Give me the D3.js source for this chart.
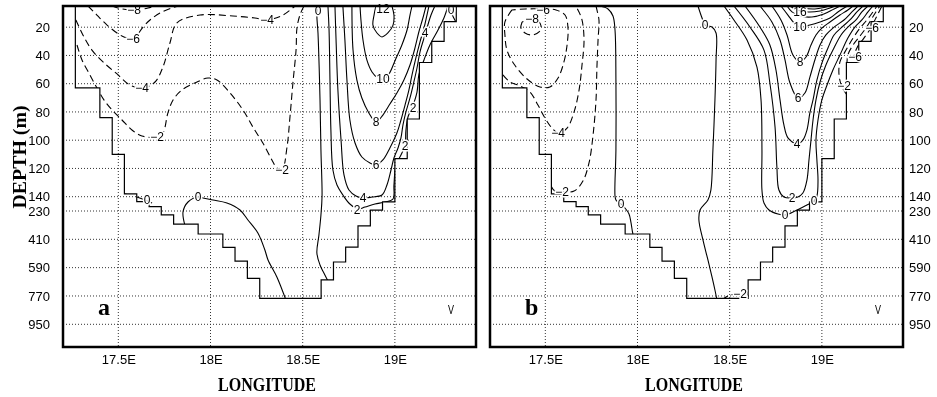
<!DOCTYPE html>
<html>
<head>
<meta charset="utf-8">
<script src="https://cdn.jsdelivr.net/npm/d3@7"></script>
<style>
  body { margin: 0; background: #fff; }
  svg { filter: grayscale(100%); }
  .lab { font-family: "Liberation Sans", Arial, sans-serif; font-size: 12px; }
</style>
</head>
<body>
<script>
// ticks
var lonTicks = [17.5, 18, 18.5, 19];
var depthTicks = [20, 40, 60, 80, 100, 120, 140, 230, 410, 590, 770, 950];

// model grid columns (lon edges) and bottom depth of each column (m)
var colEdges = [17.267, 17.333, 17.4, 17.467, 17.533, 17.6, 17.667, 17.733, 17.8, 17.867, 17.933, 18.0,
  18.067, 18.133, 18.2, 18.267, 18.333, 18.4, 18.467, 18.533, 18.6, 18.667, 18.733, 18.8, 18.867,
  18.933, 19.0, 19.067, 19.133, 19.2, 19.267, 19.333];
var colBottom = [63, 63, 84, 110, 138, 171, 203, 255, 313, 313, 376, 376, 461, 548, 658, 785, 785, 785,
  785, 785, 668, 554, 459, 325, 224, 173, 113, 85, 45, 30, 16];

// contour lines, panel a : [level, [[lon, depth], ...]]
var contoursA = [
  [-8, [[17.466,5],[17.520,7.1],[17.590,7.8],[17.661,6.4],[17.699,5]]],
  [-6, [[17.336,5],[17.384,11.4],[17.439,18.5],[17.493,24.1],[17.531,26.9],[17.580,28.4],[17.634,19.9],[17.672,14.9],[17.726,10],[17.791,6.4],[17.824,5]]],
  [-4, [[17.270,14.9],[17.308,25.5],[17.357,36.2],[17.417,44.6],[17.493,53.1],[17.563,60.9],[17.634,63],[17.699,58.8],[17.742,48.2],[17.780,31.2],[17.818,17],[17.943,11.4],[18.122,12.1],[18.241,13.5],[18.306,14.9],[18.393,11.4],[18.458,5]]],
  [-2, [[17.276,32.6],[17.303,43.2],[17.346,53.8],[17.384,63],[17.422,71.5],[17.466,78.6],[17.520,85.7],[17.574,92.8],[17.628,97],[17.710,97.7],[17.742,94.9],[17.769,80.7],[17.797,71.5],[17.845,64.5],[17.927,58.8],[17.986,56],[18.035,57.4],[18.106,66.6],[18.176,78.6],[18.230,90.7],[18.284,102],[18.333,114],[18.360,119.7],[18.388,121.1],[18.415,104.8],[18.431,83.6],[18.447,59.5],[18.464,36.2],[18.469,20.6],[18.485,11.4],[18.507,5]]],
  [0, [[18.583,5],[18.577,11.4],[18.583,24.1],[18.594,71.5],[18.599,106.9],[18.605,139.5],[18.599,255],[18.588,383],[18.577,497],[18.594,573],[18.615,624],[18.637,675]]],
  [0, [[17.862,325],[17.851,236],[17.878,173.4],[17.932,141.9],[17.959,148.2],[18.013,160.8],[18.089,179.7],[18.160,223.6],[18.203,287],[18.257,370],[18.295,478],[18.312,541],[18.360,649],[18.409,795]]],
  [0, [[17.536,138.1],[17.601,141.9],[17.683,179.7]]],
  [0, [[19.293,5],[19.309,10.7],[19.331,16.3]]],
  [2, [[18.637,5],[18.643,22],[18.648,57.4],[18.653,92.8],[18.664,121.1],[18.686,131.7],[18.718,138.8],[18.756,186],[18.800,217.4],[18.838,204.8],[18.892,186],[18.946,173.4],[18.990,154.5],[18.995,131.7],[19.006,117.6],[19.033,110.5],[19.055,103.4],[19.060,92.8],[19.071,83.6],[19.093,77.2],[19.120,65.9],[19.130,53.8],[19.158,43.2],[19.190,32.6],[19.234,22],[19.266,13.5],[19.288,5]]],
  [4, [[18.675,5],[18.681,29.1],[18.691,64.5],[18.708,99.9],[18.724,124.6],[18.751,135.3],[18.789,139.5],[18.827,148.2],[18.876,141.9],[18.930,138.8],[18.957,131.7],[18.979,121.1],[18.995,112.6],[19.017,105.5],[19.033,98.4],[19.044,89.2],[19.060,80],[19.082,70.1],[19.103,58.8],[19.120,48.9],[19.136,37.6],[19.158,27.7],[19.174,20.6],[19.196,11.4],[19.217,5]]],
  [6, [[18.718,5],[18.729,29.1],[18.740,57.4],[18.756,85.7],[18.784,102],[18.821,111.9],[18.865,116.1],[18.897,117.6],[18.935,114],[18.973,105.5],[19.011,94.9],[19.033,85.7],[19.055,75.1],[19.076,64.5],[19.093,53.8],[19.114,41.8],[19.136,30.5],[19.158,20.6],[19.174,11.4],[19.185,5]]],
  [8, [[18.767,5],[18.773,36.2],[18.794,57.4],[18.821,70.1],[18.859,80.7],[18.897,87.1],[18.935,82.2],[18.973,74.4],[19.011,66.6],[19.049,57.4],[19.082,46.8],[19.109,34.7],[19.130,23.4],[19.152,13.5],[19.169,5]]],
  [10, [[18.811,5],[18.816,14.9],[18.827,29.1],[18.848,43.2],[18.876,51.7],[18.908,56],[18.935,56.7],[18.968,53.1],[19.000,43.9],[19.038,32.6],[19.066,22],[19.082,11.4],[19.093,5]]],
  [12, [[18.897,5],[18.887,11.4],[18.881,18.5],[18.903,24.1],[18.930,26.9],[18.962,24.1],[18.990,18.5],[18.995,11.4],[18.984,5]]]
];
var labelsA = [
  [17.585,7.8,"-8"], [17.580,28.4,"-6"], [17.628,63,"-4"], [18.306,14.9,"-4"],
  [17.710,97.7,"-2"], [18.388,121.1,"-2"], [18.583,8.5,"0"], [17.932,141.9,"0"],
  [17.656,160.8,"0"], [19.304,8,"0"], [18.794,223.6,"2"], [19.055,104,"2"],
  [19.098,77.2,"2"], [18.827,148.2,"4"], [19.163,24.1,"4"], [18.897,117.6,"6"],
  [18.897,87.1,"8"], [18.935,56.7,"10"], [18.935,7.1,"12"]
];

// contour lines, panel b
var contoursB = [
  [-8, [[17.374,16.3],[17.368,20.6],[17.390,24.1],[17.428,25.5],[17.466,23.4],[17.477,19.2],[17.460,15.6],[17.417,14.9],[17.374,16.3]]],
  [-6, [[17.319,7.8],[17.281,16.3],[17.281,25.5],[17.292,36.2],[17.330,46.1],[17.401,56.7],[17.471,62.3],[17.525,62.3],[17.569,56],[17.601,44.6],[17.618,32.6],[17.623,20.6],[17.607,11.4],[17.558,7.8],[17.487,7.1],[17.390,7.1],[17.319,7.8]]],
  [-4, [[17.270,53.8],[17.308,58.8],[17.363,61.6],[17.417,65.9],[17.460,75.1],[17.498,84.3],[17.536,91.4],[17.569,94.9],[17.618,91.4],[17.656,80],[17.683,64.5],[17.699,46.8],[17.710,29.1],[17.699,14.9],[17.677,7.8],[17.661,5]]],
  [-2, [[17.531,132.4],[17.552,136],[17.590,136.7],[17.656,136],[17.704,128.9],[17.737,116.1],[17.759,96.3],[17.775,71.5],[17.780,48.2],[17.786,29.1],[17.791,14.9],[17.780,7.8],[17.775,5]]],
  [0, [[17.797,5],[17.840,7.1],[17.867,12.1],[17.878,22],[17.883,57.4],[17.883,106.9],[17.878,139.5],[17.883,160.8],[17.900,179.7],[17.910,186],[17.932,211.1],[17.954,249],[17.965,306],[17.975,376],[17.986,414]]],
  [0, [[18.328,5],[18.350,13.5],[18.366,18.5],[18.404,19.9],[18.426,24.1],[18.426,43.2],[18.420,71.5],[18.409,106.9],[18.398,135.3],[18.382,160.8],[18.339,223.6],[18.333,287],[18.355,414],[18.382,541],[18.404,649],[18.420,732],[18.431,795]]],
  [-2, [[18.458,795],[18.501,764],[18.582,757],[18.609,732]]],
  [0, [[18.469,5],[18.523,14.9],[18.594,29.1],[18.648,48.2],[18.670,71.5],[18.675,106.9],[18.675,135.3],[18.686,179.7],[18.713,223.6],[18.762,249],[18.800,255],[18.854,230],[18.908,198.5],[18.941,179.7],[18.957,167],[18.973,139.5],[18.979,128.2],[18.973,114],[18.968,99.9],[18.979,85.7],[19.000,71.5],[19.028,60.9],[19.060,50.3],[19.098,39.7],[19.141,27.7],[19.179,19.9],[19.217,14.9],[19.250,9.2],[19.277,5]]],
  [2, [[18.523,5],[18.610,19.9],[18.686,36.2],[18.718,59.5],[18.746,90.7],[18.756,119],[18.767,135.3],[18.794,141.9],[18.832,148.2],[18.870,141.9],[18.897,137.4],[18.919,128.2],[18.930,114],[18.941,99.9],[18.952,85.7],[18.968,71.5],[18.990,58.8],[19.022,46.8],[19.060,36.2],[19.104,25.5],[19.147,19.2],[19.185,14.9],[19.217,9.2],[19.250,5]]],
  [4, [[18.583,5],[18.664,19.9],[18.718,32.6],[18.751,50.3],[18.773,71.5],[18.794,89.2],[18.816,98.4],[18.865,102.7],[18.897,99.9],[18.919,92.8],[18.935,80.7],[18.952,71.5],[18.973,57.4],[19.000,45.4],[19.033,34.7],[19.066,25.5],[19.109,19.9],[19.152,14.9],[19.190,9.2],[19.223,5]]],
  [6, [[18.664,5],[18.729,16.3],[18.773,29.1],[18.800,43.2],[18.827,59.5],[18.870,70.1],[18.908,66.6],[18.935,55.3],[18.962,43.2],[18.990,32.6],[19.022,25.5],[19.066,19.9],[19.120,14.9],[19.163,9.2],[19.196,5]]],
  [8, [[18.729,5],[18.778,14.9],[18.811,25.5],[18.843,39.7],[18.881,44.6],[18.914,41.1],[18.941,32.6],[18.968,25.5],[19.000,20.6],[19.044,16.3],[19.098,11.4],[19.141,7.8],[19.169,5]]],
  [10, [[18.778,5],[18.816,11.4],[18.849,17],[18.881,19.9],[18.935,18.5],[18.990,16.3],[19.044,13.5],[19.087,9.2],[19.120,6.4],[19.141,5]]],
  [12, [[18.811,5],[18.838,9.2],[18.881,12.1],[18.946,12.8],[19.011,10.7],[19.066,7.1],[19.098,5]]],
  [14, [[18.827,5],[18.865,7.8],[18.924,9.2],[18.990,8.5],[19.044,6.4],[19.071,5]]],
  [16, [[18.849,5],[18.892,6.4],[18.962,7.1],[19.022,5.7],[19.044,5]]],
  [-2, [[19.136,68],[19.109,62.3],[19.093,53.8],[19.098,44.6],[19.131,36.2],[19.169,27.7],[19.207,20.6],[19.244,14.9],[19.277,9.2],[19.299,5]]],
  [-4, [[19.136,46.8],[19.141,39.7],[19.169,32.6],[19.207,26.2],[19.239,20.6],[19.266,14.9],[19.293,9.2],[19.315,5]]],
  [-6, [[19.207,41.8],[19.179,40.4],[19.190,34.7],[19.228,27.7],[19.266,20.6],[19.293,13.5],[19.315,7.8],[19.326,5]]]
];
var labelsB = [
  [17.428,14.2,"-8"], [17.487,7.8,"-6"], [17.569,94.9,"-4"], [17.590,136.7,"-2"],
  [17.910,186,"0"], [18.366,18.5,"0"], [18.556,757,"-2"], [18.800,255,"0"],
  [18.957,167,"0"], [18.838,148.2,"2"], [18.865,102.7,"4"], [18.870,70.1,"6"],
  [18.881,44.6,"8"], [18.881,19.9,"10"], [18.881,9.2,"16"], [19.120,61.6,"-2"],
  [19.179,41.1,"-6"], [19.272,20.6,"-6"]
];

var W = 937, H = 397;
var pw = 413, ph = 341;

var svg = d3.select("body").append("svg")
    .attr("width", W)
    .attr("height", H);

// scales shared by both panels
var x = d3.scaleLinear().domain([17.2, 19.44]).range([0, pw]);
var y = d3.scaleLinear().domain([5, 140, 230, 950, 1094]).range([0, 190.7, 205, 318.3, ph]);

var smooth = d3.line()
    .x(function(d) { return x(d[0]); })
    .y(function(d) { return y(d[1]); })
    .curve(d3.curveCatmullRom.alpha(0.5));
var straight = d3.line()
    .x(function(d) { return x(d[0]); })
    .y(function(d) { return y(d[1]); });

// staircase of the bottom
var steps = [[colEdges[0], 5]];
colBottom.forEach(function(b, i) {
  steps.push([colEdges[i], b], [colEdges[i + 1], b]);
});
steps.push([colEdges[colEdges.length - 1], 5]);

function labelText(d) { return d[2].replace("-", "\u2212"); }

function drawPanel(left, contours, labels, letter, side, id) {
  var g = svg.append("g").attr("transform", "translate(" + left + ",6)");

  g.append("clipPath").attr("id", id)
    .append("path").attr("d", straight(steps) + "Z");

  // dotted grid
  g.selectAll(".vg").data(lonTicks).enter().append("line")
      .attr("x1", function(d) { return x(d); })
      .attr("x2", function(d) { return x(d); })
      .attr("y1", 0).attr("y2", ph)
      .attr("stroke", "#333").attr("stroke-dasharray", "1,2");
  g.selectAll(".hg").data(depthTicks).enter().append("line")
      .attr("y1", function(d) { return y(d); })
      .attr("y2", function(d) { return y(d); })
      .attr("x1", 0).attr("x2", pw)
      .attr("stroke", "#333").attr("stroke-dasharray", "1,2");

  // contour lines, clipped to the water
  g.append("g").attr("clip-path", "url(#" + id + ")")
    .selectAll("path").data(contours).enter().append("path")
      .attr("d", function(d) { return smooth(d[1]); })
      .attr("fill", "none")
      .attr("stroke", "#000")
      .attr("stroke-width", 1.1)
      .attr("stroke-dasharray", function(d) { return d[0] < 0 ? "7,4" : null; });

  // bottom outline
  g.append("path")
      .attr("d", straight(steps))
      .attr("fill", "none")
      .attr("stroke", "#000")
      .attr("stroke-width", 1.2);

  // contour labels: white knock-out underneath, black text on top
  var lg = g.append("g");
  lg.selectAll(".clh").data(labels).enter().append("text")
      .attr("class", "lab")
      .attr("x", function(d) { return Math.round(x(d[0])); })
      .attr("y", function(d) { return Math.round(y(d[1]) + 4); })
      .attr("text-anchor", "middle")
      .attr("fill", "#fff")
      .attr("stroke", "#fff").attr("stroke-width", 3)
      .text(labelText);
  lg.selectAll(".cl").data(labels).enter().append("text")
      .attr("class", "lab")
      .attr("x", function(d) { return Math.round(x(d[0])); })
      .attr("y", function(d) { return Math.round(y(d[1]) + 4); })
      .attr("text-anchor", "middle")
      .attr("fill", "#000")
      .text(labelText);

  // panel letter and the small v
  g.append("text")
      .attr("x", 35).attr("y", 309)
      .attr("font-family", "Liberation Serif, serif")
      .attr("font-weight", "bold")
      .attr("font-size", 24)
      .text(letter);
  g.append("text")
      .attr("x", 385).attr("y", 308)
      .attr("font-family", "Liberation Sans, sans-serif")
      .attr("font-size", 12)
      .attr("textLength", 6).attr("lengthAdjust", "spacingAndGlyphs")
      .text("V");

  // frame
  g.append("rect")
      .attr("width", pw).attr("height", ph)
      .attr("fill", "none").attr("stroke", "#000").attr("stroke-width", 2.5);

  // axes
  var xa = g.append("g").attr("transform", "translate(0," + ph + ")")
      .call(d3.axisBottom(x).tickValues(lonTicks).tickSize(0).tickPadding(8)
        .tickFormat(function(d) { return d + "E"; }));
  var ya;
  if (side === "left") {
    ya = g.append("g").call(d3.axisLeft(y).tickValues(depthTicks).tickSize(0).tickPadding(13));
  } else {
    ya = g.append("g").attr("transform", "translate(" + pw + ",0)")
      .call(d3.axisRight(y).tickValues(depthTicks).tickSize(0).tickPadding(6));
  }
  [xa, ya].forEach(function(a) {
    a.attr("font-family", "Liberation Sans, Arial, sans-serif").attr("font-size", 13);
    a.select(".domain").remove();
    a.selectAll("text").attr("fill", "#000");
  });

  g.append("text")
      .attr("x", 204).attr("y", 385)
      .attr("text-anchor", "middle")
      .attr("font-family", "Liberation Serif, serif")
      .attr("font-weight", "bold")
      .attr("font-size", 18)
      .attr("textLength", 98).attr("lengthAdjust", "spacingAndGlyphs")
      .text("LONGITUDE");
  return g;
}

drawPanel(63, contoursA, labelsA, "a", "left", "clipA");
drawPanel(490, contoursB, labelsB, "b", "right", "clipB");

svg.append("text")
    .attr("transform", "translate(26,157) rotate(-90)")
    .attr("text-anchor", "middle")
    .attr("font-family", "Liberation Serif, serif")
    .attr("font-weight", "bold")
    .attr("font-size", 18)
    .attr("textLength", 103).attr("lengthAdjust", "spacingAndGlyphs")
    .text("DEPTH (m)");
</script>
</body>
</html>
